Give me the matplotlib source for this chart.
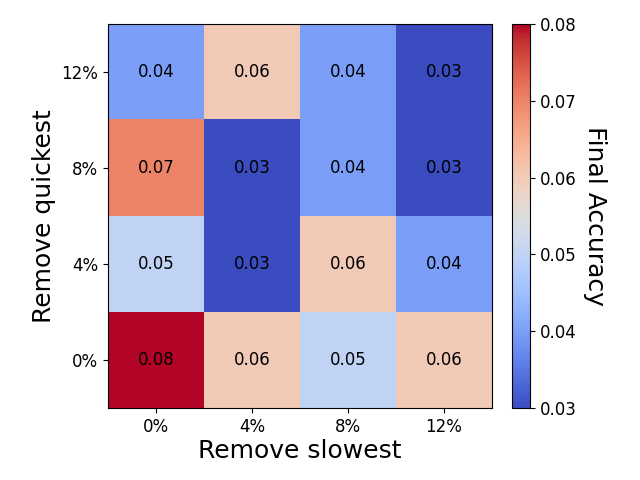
import matplotlib
matplotlib.use("Agg")
import matplotlib.pyplot as plt
import numpy as np

slowest_labels = ["0%", "4%", "8%", "12%"]
quickest_labels = ["0%", "4%", "8%", "12%"]
# rows: remove quickest 0%,4%,8%,12% ; cols: remove slowest 0%,4%,8%,12%
row_q0 = [0.08, 0.06, 0.05, 0.06]
row_q4 = [0.05, 0.03, 0.06, 0.04]
row_q8 = [0.07, 0.03, 0.04, 0.03]
row_q12 = [0.04, 0.06, 0.04, 0.03]

data = np.array([row_q0, row_q4, row_q8, row_q12])

fig = plt.figure(figsize=(6.4, 4.8), dpi=100)
ax = fig.add_axes([0.16875, 0.15, 0.6, 0.8])
cax = fig.add_axes([0.8, 0.15, 0.028, 0.8])

im = ax.imshow(data, cmap="coolwarm", origin="lower", vmin=0.03, vmax=0.08, aspect="auto")
for i in range(data.shape[0]):
    for j in range(data.shape[1]):
        ax.text(j, i, f"{data[i, j]:.2f}", ha="center", va="center", color="black", fontsize=12)

ax.set_xticks(range(len(slowest_labels)))
ax.set_xticklabels(slowest_labels, fontsize=12)
ax.set_yticks(range(len(quickest_labels)))
ax.set_yticklabels(quickest_labels, fontsize=12)
ax.set_xlabel("Remove slowest", fontsize=18, labelpad=2)
ax.set_ylabel("Remove quickest", fontsize=18)

cb = fig.colorbar(im, cax=cax)
cb.ax.tick_params(labelsize=12)
cb.set_label("Final Accuracy", rotation=270, fontsize=18, labelpad=22)

fig.savefig("out.png", dpi=100)
